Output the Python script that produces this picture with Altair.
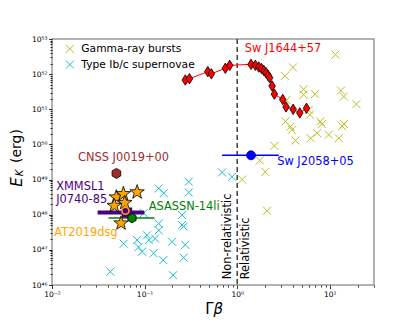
import math
import altair as alt
import pandas as pd

# ---------------- data ----------------
grb_x = [11.5, 4.0, 3.27, 5.2, 5.2, 6.9, 13.2, 14.2, 19.4, 3.4, 5.9, 6.1, 3.32, 3.76,
         3.9, 7.9, 8.2, 7.3, 6.2, 9.75, 12.5, 13.6, 14.2, 4.26, 2.52, 1.75, 2.01, 1.13, 2.1]
grb_e = [3.6e52, 1.55e52, 8.9e51, 3.7e51, 2.6e51, 2.7e51, 3.4e51, 2.3e51, 1.4e51, 1.8e51,
         9.5e50, 7.0e50, 4.5e50, 3.2e50, 2.6e50, 4.5e50, 3.8e50, 2.1e50, 1.5e50, 1.9e50,
         1.5e50, 3.3e50, 3.8e50, 1.3e50, 9.1e49, 3.5e49, 1.66e49, 1.0e49, 1.3e48]

sn_x = [0.142, 0.161, 0.30, 0.30, 0.687, 0.88, 0.098, 0.142, 0.142, 0.254, 0.254, 0.264,
        0.0594, 0.083, 0.086, 0.094, 0.106, 0.111, 0.125, 0.13, 0.198, 0.275, 0.159,
        0.264, 0.203, 0.0427]
sn_e = [5.6e48, 4.1e48, 8.7e48, 4.3e48, 1.6e49, 1.2e49, 1.1e48, 5.6e47, 3.6e47, 9.8e47,
        5.1e47, 4.6e47, 1.5e47, 1.9e47, 1.2e47, 8.9e46, 2.6e47, 1.9e47, 8.0e46, 2.1e47,
        1.7e47, 1.4e47, 5.1e46, 6.0e46, 1.9e46, 2.4e46]

j1644_x = [0.275, 0.305, 0.481, 0.526, 0.745, 0.83, 1.41, 1.57, 1.71, 1.83, 1.94, 2.05,
           2.15, 2.24, 2.38, 2.52, 3.1, 3.37, 4.02, 4.74, 5.6]
j1644_e = [6.8e51, 7.4e51, 1.18e52, 1.02e52, 1.47e52, 1.78e52, 1.9e52, 1.78e52, 1.59e52,
           1.45e52, 1.26e52, 1.1e52, 9.3e51, 7.9e51, 4.6e51, 2.7e51, 1.9e51, 1.17e51,
           1.0e51, 7.9e50, 1.07e51]

at_x = [0.0495, 0.047, 0.059, 0.061, 0.083, 0.0557]
at_e = [3.3e48, 1.9e48, 4.1e48, 2.3e48, 4.6e48, 6.0e47]
at_ring_x = [0.062]
at_ring_e = [1.3e48]

xmm_x, xmm_e, xmm_lo, xmm_hi = [0.0646], [1.15e48], [0.0311], [0.0993]
asn_x, asn_e, asn_lo, asn_hi = [0.0731], [8.0e47], [0.0409], [0.1276]
cnss_x, cnss_e = [0.0496], [1.5e49]
j2058_x, j2058_e, j2058_lo, j2058_hi = [1.41], [4.9e49], [0.687], [2.81]

boundary_x = [1.0]

legend_names = ["Gamma-ray bursts", "Type Ib/c supernovae"]
legend_colors = ["#bcbd22", "#17becf"]

ann_text = ["Sw J1644+57", "CNSS J0019+00", "XMMSL1", "J0740-85", "ASASSN-14li",
            "AT2019dsg", "Sw J2058+05"]
ann_x = [1.205, 0.0191, 0.0111, 0.0111, 0.1106, 0.01059, 2.70]
ann_e = [5.2e52, 4.0e49, 6.0e48, 2.6e48, 1.7e48, 2.95e47, 3.2e49]
ann_color = ["#ff0000", "#a52a2a", "#4b0082", "#4b0082", "#008000", "#ffa500", "#0000ff"]

vert_text = ["Non-relativistic", "Relativistic"]
vert_x = [0.796, 1.25]
vert_e = [1.45e46, 1.45e46]

x_major = [-2, -1, 0, 1]
y_major = list(range(46, 54))

# ---------------- helpers ----------------
FONT = "DejaVu Sans"
XPATH = "M-1,-1L1,1M-1,1L1,-1"
THIN_DIAMOND = "M0,-1L0.62,0L0,1L-0.62,0Z"
HEXAGON = "M0,-1L0.866,-0.5L0.866,0.5L0,1L-0.866,0.5L-0.866,-0.5Z"
_sp = []
for i in range(10):
    r = 1.0 if i % 2 == 0 else 0.4
    a = -math.pi / 2 + i * math.pi / 5
    _sp.append(f"{r * math.cos(a):.3f},{r * math.sin(a) + 0.1:.3f}")
STAR = "M" + "L".join(_sp) + "Z"
W, H = 322, 246

xs = alt.Scale(type="log", domain=[0.01, 30], nice=False)
ys = alt.Scale(type="log", domain=[1e46, 1e53], nice=False)

SUP = str.maketrans("0123456789-", "⁰¹²³⁴⁵⁶⁷⁸⁹⁻")
MAJOR = "abs(log(datum.value)/LN10 - round(log(datum.value)/LN10)) < 0.001"


def label_expr(exps):
    expr = "''"
    for e in reversed(exps):
        expr = f"abs(log(datum.value)/LN10 - ({e})) < 0.001 ? '10{str(e).translate(SUP)}' : {expr}"
    return expr


x_ticks = []
for k in x_major:
    for m in range(1, 10):
        x_ticks.append(m * 10.0 ** k)
x_ticks = [v for v in x_ticks if v <= 30.0001]
y_ticks = []
for k in y_major:
    for m in range(1, 10):
        v = m * 10.0 ** k
        if v <= 1.0001e53:
            y_ticks.append(v)

common_axis = dict(grid=False, domain=False, title=None, labelFont=FONT, labelFontSize=7.5,
                   labelColor="black", tickColor="black", tickWidth=0.8,
                   tickSize={"condition": {"test": MAJOR, "value": 3.5}, "value": 2})
x_axis = alt.Axis(orient="bottom", values=x_ticks, labelExpr=label_expr(x_major), labelPadding=2,
                  labelFlush=False, labelOverlap=False, **common_axis)
y_axis = alt.Axis(orient="left", values=y_ticks, labelExpr=label_expr(y_major), labelPadding=1.5,
                  labelFlush=False, labelOverlap=False, **common_axis)


def X(f):
    return alt.X(f, type="quantitative", scale=xs, axis=x_axis)


def Y(f):
    return alt.Y(f, type="quantitative", scale=ys, axis=y_axis)


# ---------------- layers ----------------
pts = pd.DataFrame({
    "x": grb_x + sn_x,
    "e": grb_e + sn_e,
    "kind": [legend_names[0]] * len(grb_x) + [legend_names[1]] * len(sn_x),
})
cross_layer = alt.Chart(pts).mark_point(shape=XPATH, filled=False, size=64, strokeWidth=1, opacity=1).encode(
    x=X("x"), y=Y("e"),
    color=alt.Color("kind:N", scale=alt.Scale(domain=legend_names, range=legend_colors),
                    legend=alt.Legend(title=None, orient="none", legendX=12.6, legendY=4.5,
                                      symbolType=XPATH, symbolSize=64, symbolStrokeWidth=1,
                                      labelFont=FONT, labelFontSize=10.7, labelColor="black",
                                      labelOffset=6, rowPadding=2.7, padding=0)),
)

boundary = alt.Chart(pd.DataFrame({"x": boundary_x})).mark_rule(
    color="#333333", strokeDash=[5, 3], strokeWidth=1.4).encode(x=X("x"))

j1644 = pd.DataFrame({"x": j1644_x, "e": j1644_e, "i": list(range(len(j1644_x)))})
j1644_line = alt.Chart(j1644).mark_line(color="#ff0000", strokeWidth=1).encode(
    x=X("x"), y=Y("e"), order="i:Q")
j1644_pts = alt.Chart(j1644).mark_point(shape=THIN_DIAMOND, filled=True, fill="#ff0000",
                                       stroke="black", strokeWidth=0.8, size=110, opacity=1).encode(
    x=X("x"), y=Y("e"))

xmm = pd.DataFrame({"x": xmm_x, "e": xmm_e, "lo": xmm_lo, "hi": xmm_hi})
asn = pd.DataFrame({"x": asn_x, "e": asn_e, "lo": asn_lo, "hi": asn_hi})
j2058 = pd.DataFrame({"x": j2058_x, "e": j2058_e, "lo": j2058_lo, "hi": j2058_hi})

xmm_bar = alt.Chart(xmm).mark_rule(color="#4b0082", strokeWidth=4).encode(
    x=X("lo"), x2=alt.X2("hi"), y=Y("e"))
xmm_pt = alt.Chart(xmm).mark_point(shape="square", filled=True, fill="#4b0082", stroke="#4b0082",
                                   size=70, opacity=1).encode(x=X("x"), y=Y("e"))
asn_bar = alt.Chart(asn).mark_rule(color="#008000", strokeWidth=1.5).encode(
    x=X("lo"), x2=alt.X2("hi"), y=Y("e"))
j2058_bar = alt.Chart(j2058).mark_rule(color="#0000ff", strokeWidth=1.5).encode(
    x=X("lo"), x2=alt.X2("hi"), y=Y("e"))
j2058_pt = alt.Chart(j2058).mark_point(shape="circle", filled=True, fill="#0000ff", stroke="#000080",
                                       strokeWidth=0.8, size=80, opacity=1).encode(x=X("x"), y=Y("e"))

at_stars = alt.Chart(pd.DataFrame({"x": at_x, "e": at_e})).mark_point(
    shape=STAR, filled=True, fill="#ffa500", stroke="black", strokeWidth=0.8, size=230, opacity=1).encode(
    x=X("x"), y=Y("e"))
at_ring = alt.Chart(pd.DataFrame({"x": at_ring_x, "e": at_ring_e})).mark_point(
    shape="circle", filled=False, stroke="#ffa500", strokeWidth=1.6, size=50, opacity=1).encode(
    x=X("x"), y=Y("e"))
asn_pt = alt.Chart(asn).mark_point(shape=HEXAGON, filled=True, fill="#008000", stroke="black",
                                   strokeWidth=0.8, size=90, opacity=1).encode(x=X("x"), y=Y("e"))
cnss_pt = alt.Chart(pd.DataFrame({"x": cnss_x, "e": cnss_e})).mark_point(
    shape=HEXAGON, filled=True, fill="#a52a2a", stroke="black", strokeWidth=0.8, size=100, opacity=1).encode(
    x=X("x"), y=Y("e"))

ann = pd.DataFrame({"t": ann_text, "x": ann_x, "e": ann_e, "c": ann_color})
ann_layer = alt.Chart(ann).mark_text(align="left", baseline="middle", font=FONT, fontSize=11.4).encode(
    x=X("x"), y=Y("e"), text="t:N", color=alt.Color("c:N", scale=None))

vert = pd.DataFrame({"t": vert_text, "x": vert_x, "e": vert_e})
vert_layer = alt.Chart(vert).mark_text(align="left", baseline="middle", angle=270, font=FONT,
                                       fontSize=11.4, color="black").encode(
    x=X("x"), y=Y("e"), text="t:N")


# axis titles (mathtext-like pieces)
def title_piece(txt, px, py, size, italic, angle=0, align="center"):
    kw = dict(font=FONT, fontSize=size, color="black", baseline="middle", align=align)
    if italic:
        kw["fontStyle"] = "italic"
    if angle:
        kw["angle"] = angle
    return alt.Chart(pd.DataFrame({"t": [txt]})).mark_text(**kw).encode(
        text="t:N", x=alt.value(px), y=alt.value(py))


titles = [
    title_piece("Γ", 161.5, 270, 15, False, align="right"),
    title_piece("β", 161.5, 270, 15, True, align="left"),
    title_piece("E", -35.5, 143, 15, True, angle=270),
    title_piece("K", -32, 134, 10, True, angle=270),
    title_piece("(erg)", -35.5, 107, 14, False, angle=270),
]

chart = alt.layer(
    cross_layer, boundary, j1644_line, j1644_pts, xmm_bar, asn_bar, j2058_bar, j2058_pt,
    cnss_pt, xmm_pt, at_stars, at_ring, asn_pt, ann_layer, vert_layer, *titles
).properties(
    width=W, height=H,
    autosize=alt.AutoSizeParams(type="none"),
    padding={"left": 44, "top": 31, "right": 30, "bottom": 40},
).configure_view(stroke="#999999", strokeWidth=1.5)

chart.save("out.html", embed_options={"renderer": "svg", "actions": False})
